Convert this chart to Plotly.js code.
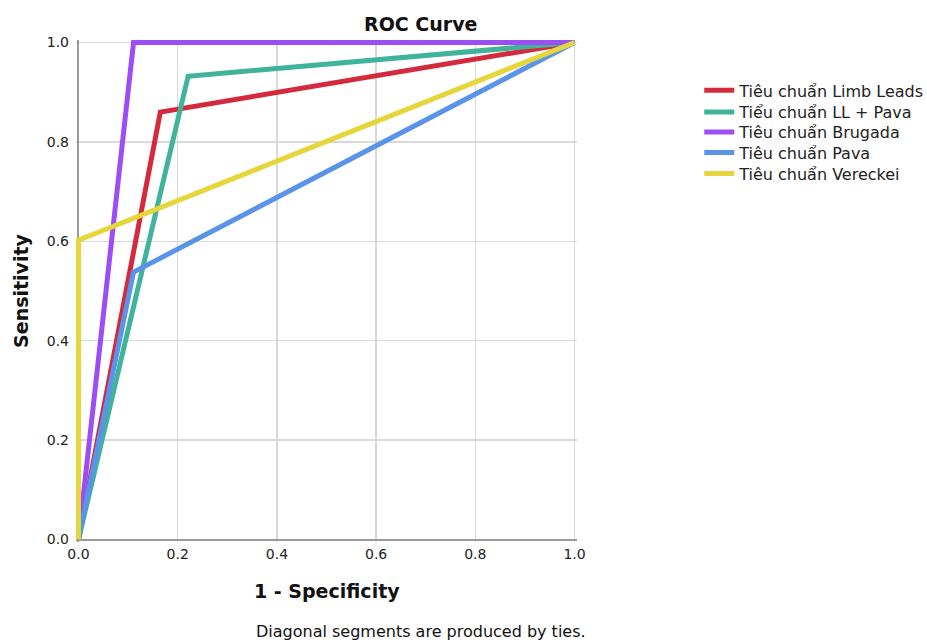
<!DOCTYPE html>
<html>
<head>
<meta charset="utf-8">
<script src="https://cdn.plot.ly/plotly-3.0.1.min.js"></script>
<style>html,body{margin:0;padding:0;background:#fff;}#chart{width:927px;height:640px;}</style>
</head>
<body>
<div id="chart"></div>
<script>
const seriesNames = ["Tiêu chuẩn Limb Leads", "Tiểu chuẩn LL + Pava", "Tiêu chuẩn Brugada", "Tiêu chuẩn Pava", "Tiêu chuẩn Vereckei"];
const fprLimbLeads = [0, 0.165, 1];
const tprLimbLeads = [0, 0.86, 1];
const fprLLPava = [0, 0.221, 1];
const tprLLPava = [0, 0.932, 1];
const fprBrugada = [0, 0.111, 1];
const tprBrugada = [0, 1.0, 1];
const fprPava = [0, 0.111, 1];
const tprPava = [0, 0.538, 1];
const fprVereckei = [0, 0, 1];
const tprVereckei = [0, 0.602, 1];
const tickVals = [0, 0.2, 0.4, 0.6, 0.8, 1.0];
const tickText = ["0.0", "0.2", "0.4", "0.6", "0.8", "1.0"];

const colors = ["#d42a3c", "#3fb39b", "#9d4df4", "#5a94e8", "#e5d63c"];
const xs = [fprLimbLeads, fprLLPava, fprBrugada, fprPava, fprVereckei];
const ys = [tprLimbLeads, tprLLPava, tprBrugada, tprPava, tprVereckei];
const legendIds = ["legend", "legend2", "legend3", "legend4", "legend5"];
const legendY = [0.8996, 0.8565, 0.8167, 0.7757, 0.7340];

const FONT = "DejaVu Sans, sans-serif";
const traces = seriesNames.map((n, i) => ({
  type: "scatter", mode: "lines", name: n, x: xs[i], y: ys[i], legend: legendIds[i],
  line: {color: colors[i], width: 5}, cliponaxis: false
}));

const axisCommon = {
  range: [-0.005, 1.005], tickvals: tickVals, ticktext: tickText,
  showgrid: true, gridcolor: "#d9d9d9", gridwidth: 1.5,
  zeroline: true, zerolinecolor: "#9a9a9a", zerolinewidth: 2,
  showline: false, ticks: "", fixedrange: true, automargin: false,
  tickfont: {family: FONT, size: 14, color: "#222"}
};

const layout = {
  width: 927, height: 640,
  margin: {l: 75.5, r: 349.5, t: 39.5, b: 97.5, autoexpand: false},
  paper_bgcolor: "#fff", plot_bgcolor: "#fff",
  xaxis: Object.assign({}, axisCommon, {ticklabelstandoff: 2}),
  yaxis: Object.assign({}, axisCommon, {ticklabelstandoff: 6}),
  showlegend: true,
  annotations: [
    {text: "<b>ROC Curve</b>", xref: "paper", yref: "paper", x: 0.688, y: 1.031, showarrow: false,
      xanchor: "center", yanchor: "middle", font: {family: FONT, size: 19, color: "#111"}},
    {text: "<b>1 - Specificity</b>", xref: "paper", yref: "paper", x: 0.5, y: -0.098, showarrow: false,
      xanchor: "center", yanchor: "middle", font: {family: FONT, size: 19, color: "#111"}},
    {text: "<b>Sensitivity</b>", xref: "paper", yref: "paper", x: -0.11, y: 0.5, showarrow: false,
      textangle: -90, xanchor: "center", yanchor: "middle", font: {family: FONT, size: 19, color: "#111"}},
    {text: "Diagonal segments are produced by ties.", xref: "paper", yref: "paper", x: 0.689, y: -0.178, showarrow: false,
      xanchor: "center", yanchor: "middle", font: {family: FONT, size: 16, color: "#111"}}
  ]
};
legendIds.forEach((id, i) => {
  layout[id] = {x: 1.244, xanchor: "left", y: legendY[i], yanchor: "middle",
    font: {family: FONT, size: 16, color: "#222"}, bgcolor: "rgba(0,0,0,0)"};
});

Plotly.newPlot("chart", traces, layout, {displayModeBar: false, staticPlot: true});
</script>
</body>
</html>
